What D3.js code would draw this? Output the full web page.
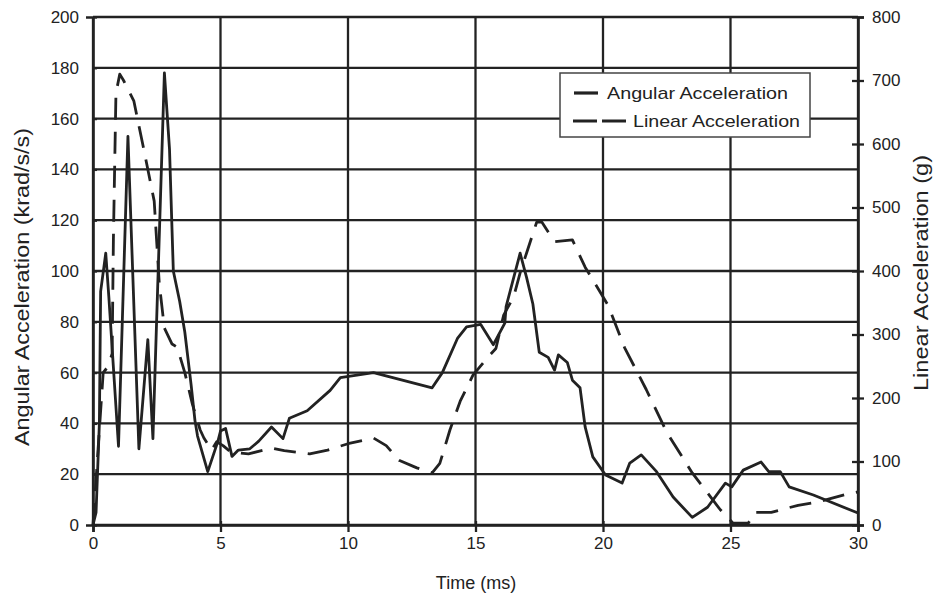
<!DOCTYPE html>
<html><head><meta charset="utf-8">
<script src="https://cdn.jsdelivr.net/npm/d3@7"></script>
<style>body{margin:0;background:#fff}svg{display:block}text{font-family:"Liberation Sans",Arial,sans-serif;fill:#222}</style>
</head><body>
<svg id="c" width="935" height="606"></svg>
<script>
const angularT = [0,0.12,0.25,0.3,0.5,0.62,1.0,1.37,1.8,2.15,2.35,2.8,3.0,3.15,3.4,3.6,3.85,4.0,4.1,4.5,4.9,5.0,5.2,5.45,5.7,6.15,6.5,7.0,7.45,7.7,8.4,9.3,9.7,11.0,13.3,13.7,14.3,14.65,15.2,15.7,16.15,16.2,16.75,17.0,17.25,17.5,17.85,18.1,18.25,18.6,18.8,19.1,19.3,19.6,20.1,20.75,21.05,21.5,22.1,22.75,23.5,24.1,24.8,25.05,25.5,26.2,26.5,26.95,27.3,28.25,30];
const angularV = [0,5,40,92,107,90,31,153,30,73,34,178,148,100,88,76,55,41,35,21,33,37,38,27,29.5,30,33,38.6,34,42,45,53,58,60,54,60,73.6,78,79,71,79.5,86,107,97.6,87,68,66,61,67,64,57,54,38.6,26.8,19.7,16.5,24.4,27.6,21,11,3,7,16.5,15,21.6,24.8,21,21,15,11.8,4.7];
const linearT = [0,0.2,0.4,0.6,0.75,0.8,0.9,1.05,1.2,1.6,2.0,2.4,2.6,2.8,3.1,3.3,3.6,3.9,4.2,4.35,4.65,4.85,5.1,5.4,6.1,7.0,7.5,8.5,9.2,10,11,11.5,12,12.7,13.3,13.6,14.0,14.4,14.9,15.5,15.8,16.1,16.5,16.75,17.0,17.4,17.6,18.1,18.8,19.3,20.2,20.85,21.7,22.5,23.5,24.6,25.1,25.7,25.95,26.6,27.65,28.4,29.6,30];
const linearV = [0,120,240,250,270,450,680,710,700,668,590,510,380,310,285,280,240,190,150,137,118,131,125,115,112,121,117,112,118,128,137,125,102,90,82,97,150,195,236,265,278,330,360,397,428,477,477,446,449,406,346,279,213,146,82,24,3,3,20,20,31,36,49,52];
const xTicks = [0,5,10,15,20,25,30];
const leftTicks = [0,20,40,60,80,100,120,140,160,180,200];
const rightTicks = [0,100,200,300,400,500,600,700,800];
const legendLabels = ["Angular Acceleration","Linear Acceleration"];

const svg = d3.select("#c");
const L=93,R=858,T=17,B=525;
const x = d3.scaleLinear().domain([0,30]).range([L,R]);
const yL = d3.scaleLinear().domain([0,200]).range([B,T]);
const yR = d3.scaleLinear().domain([0,800]).range([B,T]);
const ink="#222";
const FF='"Liberation Sans",Arial,sans-serif';

// grid
svg.append("g").selectAll("line").data(leftTicks).join("line")
  .attr("x1",L).attr("x2",R).attr("y1",d=>yL(d)).attr("y2",d=>yL(d))
  .attr("stroke",ink).attr("stroke-width",2.3);
svg.append("g").selectAll("line").data(xTicks).join("line")
  .attr("x1",d=>x(d)).attr("x2",d=>x(d)).attr("y1",T).attr("y2",B)
  .attr("stroke",ink).attr("stroke-width",2.3);

// axes
const ax = svg.append("g").attr("transform",`translate(0,${B})`)
  .call(d3.axisBottom(x).tickValues(xTicks).tickSize(7).tickPadding(5).tickFormat(d3.format("d")));
const al = svg.append("g").attr("transform",`translate(${L},0)`)
  .call(d3.axisLeft(yL).tickValues(leftTicks).tickSize(7).tickPadding(7));
const ar = svg.append("g").attr("transform",`translate(${R},0)`)
  .call(d3.axisRight(yR).tickValues(rightTicks).tickSize(6).tickPadding(8));
[ax,al,ar].forEach(g=>{
  g.select(".domain").attr("stroke",ink).attr("stroke-width",2.6);
  g.selectAll(".tick line").attr("stroke",ink).attr("stroke-width",2.3);
  g.selectAll(".tick text").attr("font-size",17).attr("fill","#222").style("font-family",FF);
});
ar.selectAll(".tick line").attr("x1",-6);
al.selectAll(".tick line").attr("x2",4);
ax.selectAll(".tick line").attr("y1",-4);

// lines
const lineA = d3.line().x(d=>x(d[0])).y(d=>yL(d[1]));
const lineB = d3.line().x(d=>x(d[0])).y(d=>yR(d[1]));
svg.append("path").datum(linearT.map((t,i)=>[t,linearV[i]]))
  .attr("d",lineB).attr("fill","none").attr("stroke",ink).attr("stroke-width",2.8)
  .attr("stroke-dasharray","22,12").attr("stroke-linejoin","round");
svg.append("path").datum(angularT.map((t,i)=>[t,angularV[i]]))
  .attr("d",lineA).attr("fill","none").attr("stroke",ink).attr("stroke-width",2.8)
  .attr("stroke-linejoin","round");

// titles
svg.append("text").attr("x",476).attr("y",589).attr("text-anchor","middle").attr("font-size",18).text("Time (ms)");
svg.append("text").attr("transform",`translate(29,287) rotate(-90)`).attr("text-anchor","middle").attr("font-size",20)
  .attr("textLength",318).attr("lengthAdjust","spacingAndGlyphs").text("Angular Acceleration (krad/s/s)");
svg.append("text").attr("transform",`translate(928,273) rotate(-90)`).attr("text-anchor","middle").attr("font-size",20)
  .attr("textLength",236).attr("lengthAdjust","spacingAndGlyphs").text("Linear Acceleration (g)");

// legend
const lg = svg.append("g");
lg.append("rect").attr("x",560).attr("y",73).attr("width",250).attr("height",64)
  .attr("fill","#fff").attr("stroke","#444").attr("stroke-width",1.5);
lg.append("line").attr("x1",574).attr("x2",598).attr("y1",93).attr("y2",93).attr("stroke",ink).attr("stroke-width",3.2);
lg.append("line").attr("x1",573).attr("x2",626).attr("y1",121).attr("y2",121).attr("stroke",ink).attr("stroke-width",3.2).attr("stroke-dasharray","24,5");
lg.append("text").attr("x",607).attr("y",99).attr("font-size",17)
  .attr("textLength",181).attr("lengthAdjust","spacingAndGlyphs").text(legendLabels[0]);
lg.append("text").attr("x",633).attr("y",127).attr("font-size",17)
  .attr("textLength",167).attr("lengthAdjust","spacingAndGlyphs").text(legendLabels[1]);
</script>
</body></html>
